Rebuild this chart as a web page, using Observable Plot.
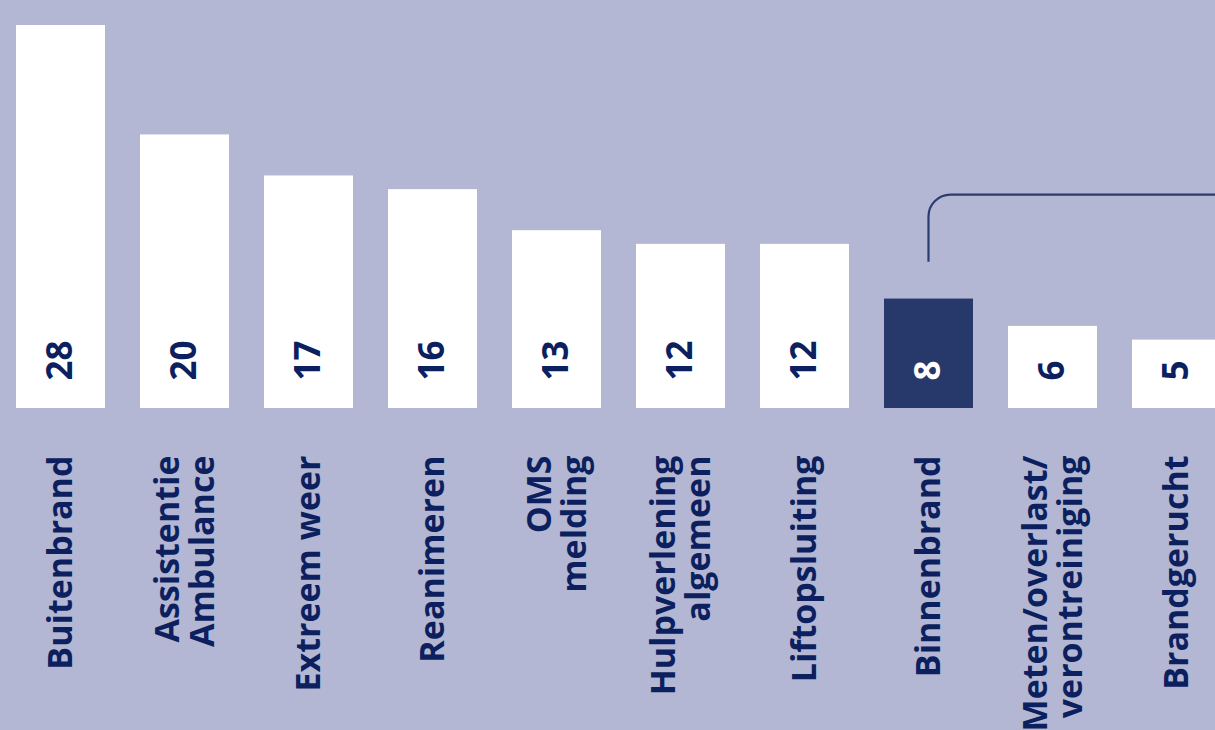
<!DOCTYPE html>
<html>
<head>
<meta charset="utf-8">
<script src="https://cdn.jsdelivr.net/npm/d3@7"></script>
<script src="https://cdn.jsdelivr.net/npm/@observablehq/plot@0.6"></script>
<style>
  html, body { margin: 0; padding: 0; background: #b3b7d3; overflow: hidden; }
  #chart svg { display: block; }
</style>
</head>
<body>
<div id="chart"></div>
<script>
const categories = [
  "Buitenbrand",
  "Assistentie\nAmbulance",
  "Extreem weer",
  "Reanimeren",
  "OMS\nmelding",
  "Hulpverlening\nalgemeen",
  "Liftopsluiting",
  "Binnenbrand",
  "Meten/overlast/\nverontreiniging",
  "Brandgerucht"
];
const values = [28, 20, 17, 16, 13, 12, 12, 8, 6, 5];
const highlighted = ["Binnenbrand"];
// annotation bracket rising from the highlighted bar (value units)
const annotationFrom = 10.7;
const annotationTo = 15.6;

const data = categories.map((c, i) => ({cat: c, value: values[i], hl: highlighted.includes(c)}));

const bg = "#b3b7d3";
const navy = "#0c1f5e";
const barNavy = "#27386b";
const font = "'Open Sans', sans-serif";

const W = 1215, H = 730;

const chart = Plot.plot({
  width: W,
  height: H,
  marginTop: 25,
  marginBottom: 322,
  marginLeft: 0,
  marginRight: 0,
  style: {background: bg, fontFamily: font, overflow: "visible"},
  x: {domain: categories, range: [15, 1222], paddingInner: 0.283, paddingOuter: 0, axis: null},
  y: {domain: [0, 28], axis: null},
  marks: [
    Plot.barY(data.filter(d => !d.hl), {x: "cat", y: "value", fill: "white"}),
    Plot.barY(data.filter(d => d.hl), {x: "cat", y: "value", fill: barNavy}),
    Plot.text(data.filter(d => !d.hl), {
      x: "cat", text: d => String(d.value), frameAnchor: "bottom", dy: -28,
      rotate: -90, textAnchor: "start", lineAnchor: "middle",
      fill: navy, fontSize: 35, fontWeight: 700
    }),
    Plot.text(data.filter(d => d.hl), {
      x: "cat", text: d => String(d.value), frameAnchor: "bottom", dy: -28,
      rotate: -90, textAnchor: "start", lineAnchor: "middle",
      fill: "white", fontSize: 35, fontWeight: 700
    }),
    Plot.text(data, {
      x: "cat", text: "cat", frameAnchor: "bottom", dy: 47,
      rotate: -90, textAnchor: "end", lineAnchor: "middle", lineHeight: 1.03,
      fill: navy, fontSize: 34, fontWeight: 700
    })
  ]
});

// rounded bracket annotation, positioned through the chart's scales
const xs = chart.scale("x");
const ys = chart.scale("y");
const cx = xs.apply(highlighted[0]) + xs.bandwidth / 2;
const y0 = ys.apply(annotationFrom);
const y1 = ys.apply(annotationTo);
const r = 22;
d3.select(chart).append("path")
  .attr("d", `M${cx},${y0}V${y1 + r}A${r},${r} 0 0 1 ${cx + r},${y1}H${W + 20}`)
  .attr("fill", "none")
  .attr("stroke", "#2a3c70")
  .attr("stroke-width", 2.2);

document.getElementById("chart").appendChild(chart);
</script>
</body>
</html>
